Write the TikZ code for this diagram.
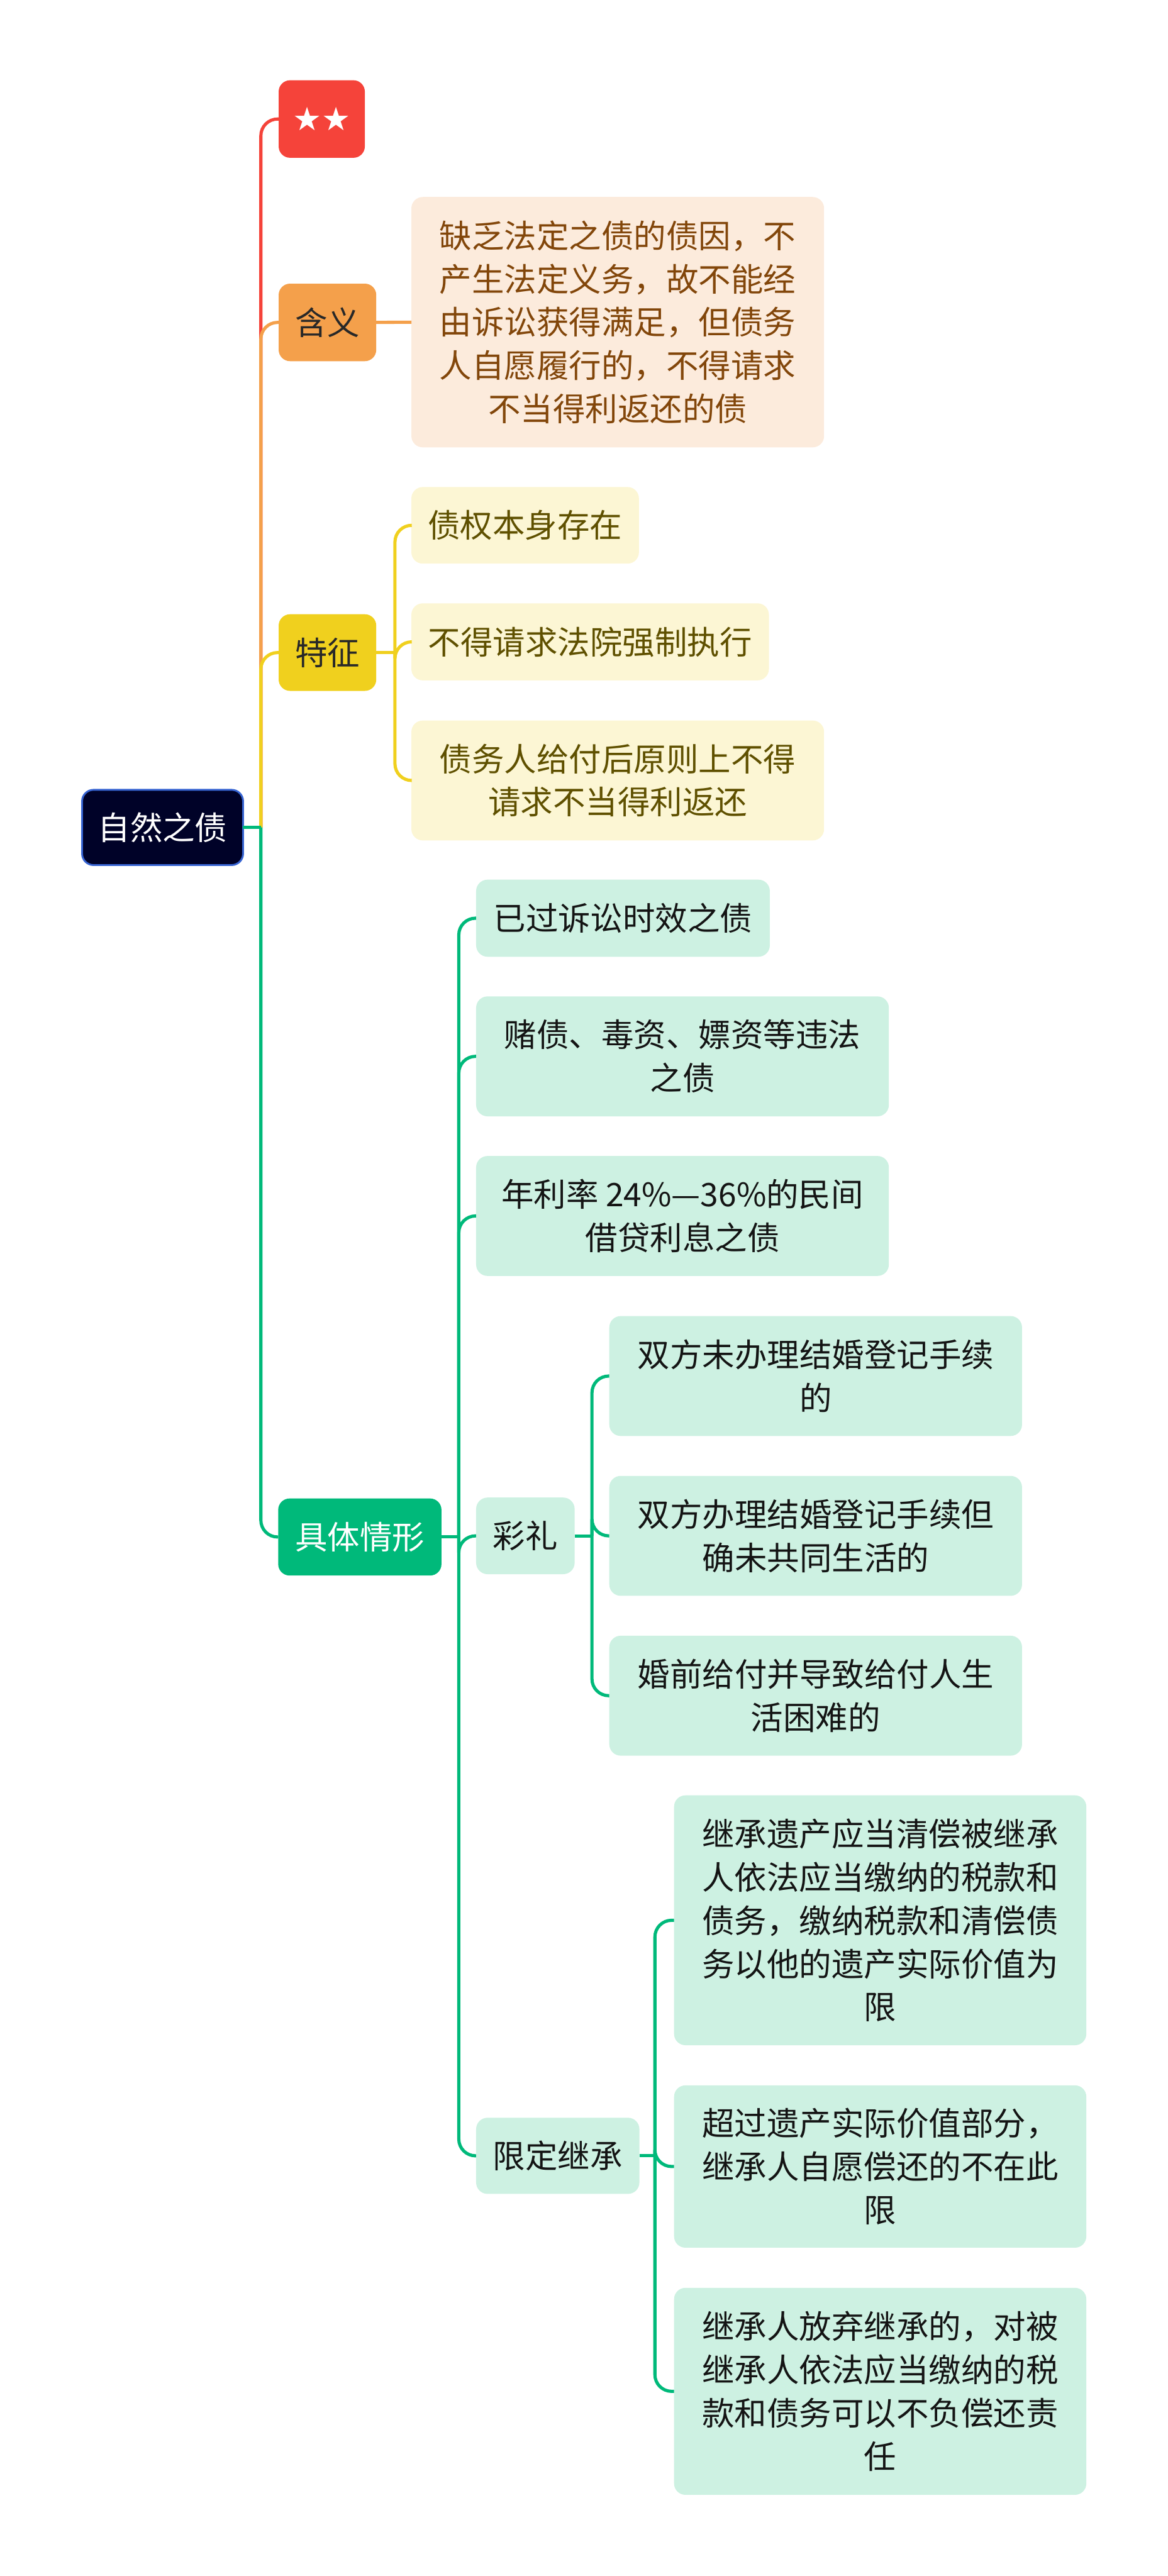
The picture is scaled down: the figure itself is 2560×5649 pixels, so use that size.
\documentclass[tikz,border=0pt]{standalone}
\usepackage{fontspec}
\setmainfont{Noto Sans CJK SC}
\newfontfamily\symfont{DejaVu Sans}
\definecolor{rootfill}{RGB}{0,2,40}
\definecolor{rootborder}{RGB}{55,100,210}
\definecolor{redfill}{RGB}{245,67,58}
\definecolor{orangefill}{RGB}{244,160,75}
\definecolor{peachfill}{RGB}{252,235,220}
\definecolor{yellowfill}{RGB}{240,208,30}
\definecolor{creamfill}{RGB}{252,246,212}
\definecolor{greenfill}{RGB}{0,185,122}
\definecolor{mintfill}{RGB}{205,241,226}
\definecolor{darktext}{RGB}{40,40,40}
\definecolor{browntext}{RGB}{130,70,10}
\definecolor{olivetext}{RGB}{95,80,0}
\definecolor{blacktext}{RGB}{20,20,20}
\begin{document}
\begin{tikzpicture}
[x=0.3pt,y=-0.3pt,
every node/.style={font=\fontsize{21.3}{28.5}\selectfont},
box size/.style 2 args={minimum width=#1*0.3pt,minimum height=#2*0.3pt},
topic box/.style={rounded corners=7.5pt,inner sep=0pt,outer sep=0pt,align=center},
root topic/.style={topic box,fill=rootfill,draw=rootborder,line width=1.2pt,text=white},
main topic/.style={topic box,fill=#1},
leaf text/.style={topic box,fill=#1},
branch line/.style={draw=#1,line width=2.1pt,rounded corners=11pt}]
\useasboundingbox (0,0) rectangle (2560,5649);
\node[root topic,box size={353}{165}] (root) at (356.5,1814.5) {自然之债};
\node[main topic=redfill,text=white,box size={189}{170}] (stars) at (705.5,261) {\symfont ★★};
\node[main topic=orangefill,text=darktext,box size={214}{170}] (meaning) at (718,707) {含义};
\node[leaf text=peachfill,text=browntext,box size={905}{549}] (meaning text) at (1354.5,706.5)
{缺乏法定之债的债因，不\\产生法定义务，故不能经\\由诉讼获得满足，但债务\\人自愿履行的，不得请求\\不当得利返还的债};
\node[main topic=yellowfill,text=darktext,box size={214}{168}] (features) at (718,1431) {特征};
\node[leaf text=creamfill,text=olivetext,box size={499}{168}] (feature one) at (1151.5,1152) {债权本身存在};
\node[leaf text=creamfill,text=olivetext,box size={784}{169}] (feature two) at (1294,1407.5) {不得请求法院强制执行};
\node[leaf text=creamfill,text=olivetext,box size={905}{263}] (feature three) at (1354.5,1711.5)
{债务人给付后原则上不得\\请求不当得利返还};
\node[main topic=greenfill,text=white,box size={358}{169}] (cases) at (789,3370.5) {具体情形};
\node[leaf text=mintfill,text=blacktext,box size={644}{169}] (case one) at (1366,2013.5) {已过诉讼时效之债};
\node[leaf text=mintfill,text=blacktext,box size={905}{263}] (case two) at (1496.5,2316.5)
{赌债、毒资、嫖资等违法\\之债};
\node[leaf text=mintfill,text=blacktext,box size={905}{263}] (case three) at (1496.5,2666.5)
{年利率 24\%—36\%的民间\\借贷利息之债};
\node[leaf text=mintfill,text=blacktext,box size={216}{168}] (bride gift) at (1152,3368) {彩礼};
\node[leaf text=mintfill,text=blacktext,box size={905}{263}] (gift one) at (1788.5,3017.5)
{双方未办理结婚登记手续\\的};
\node[leaf text=mintfill,text=blacktext,box size={905}{263}] (gift two) at (1788.5,3368)
{双方办理结婚登记手续但\\确未共同生活的};
\node[leaf text=mintfill,text=blacktext,box size={905}{263}] (gift three) at (1788.5,3718.5)
{婚前给付并导致给付人生\\活困难的};
\node[leaf text=mintfill,text=blacktext,box size={358}{167}] (limited heir) at (1223,4727.5) {限定继承};
\node[leaf text=mintfill,text=blacktext,box size={904}{548}] (heir one) at (1930,4211)
{继承遗产应当清偿被继承\\人依法应当缴纳的税款和\\债务，缴纳税款和清偿债\\务以他的遗产实际价值为\\限};
\node[leaf text=mintfill,text=blacktext,box size={904}{356}] (heir two) at (1930,4751)
{超过遗产实际价值部分，\\继承人自愿偿还的不在此\\限};
\node[leaf text=mintfill,text=blacktext,box size={904}{454}] (heir three) at (1930,5244)
{继承人放弃继承的，对被\\继承人依法应当缴纳的税\\款和债务可以不负偿还责\\任};
\coordinate (trunk) at (572,1814.5);
\coordinate (feature fork) at (866,1431);
\coordinate (case fork) at (1006,3370.5);
\coordinate (gift fork) at (1298,3368);
\coordinate (heir fork) at (1436,4727.5);
\draw[branch line=redfill] (trunk) |- (stars.west);
\draw[branch line=orangefill] (trunk) |- (meaning.west);
\draw[branch line=yellowfill] (trunk) |- (features.west);
\draw[branch line=greenfill] (trunk) |- (cases.west);
\draw[branch line=greenfill] (root.east) -- (trunk);
\draw[branch line=orangefill] (meaning.east) -- (meaning text.west);
\draw[branch line=yellowfill] (features.east) -- (feature fork);
\foreach \n in {feature one,feature two,feature three}
  \draw[branch line=yellowfill] (feature fork) |- (\n.west);
\draw[branch line=greenfill] (cases.east) -- (case fork);
\foreach \n in {case one,case two,case three,bride gift,limited heir}
  \draw[branch line=greenfill] (case fork) |- (\n.west);
\draw[branch line=greenfill] (bride gift.east) -- (gift fork);
\foreach \n in {gift one,gift two,gift three}
  \draw[branch line=greenfill] (gift fork) |- (\n.west);
\draw[branch line=greenfill] (limited heir.east) -- (heir fork);
\foreach \n in {heir one,heir two,heir three}
  \draw[branch line=greenfill] (heir fork) |- (\n.west);
\end{tikzpicture}
\end{document}
